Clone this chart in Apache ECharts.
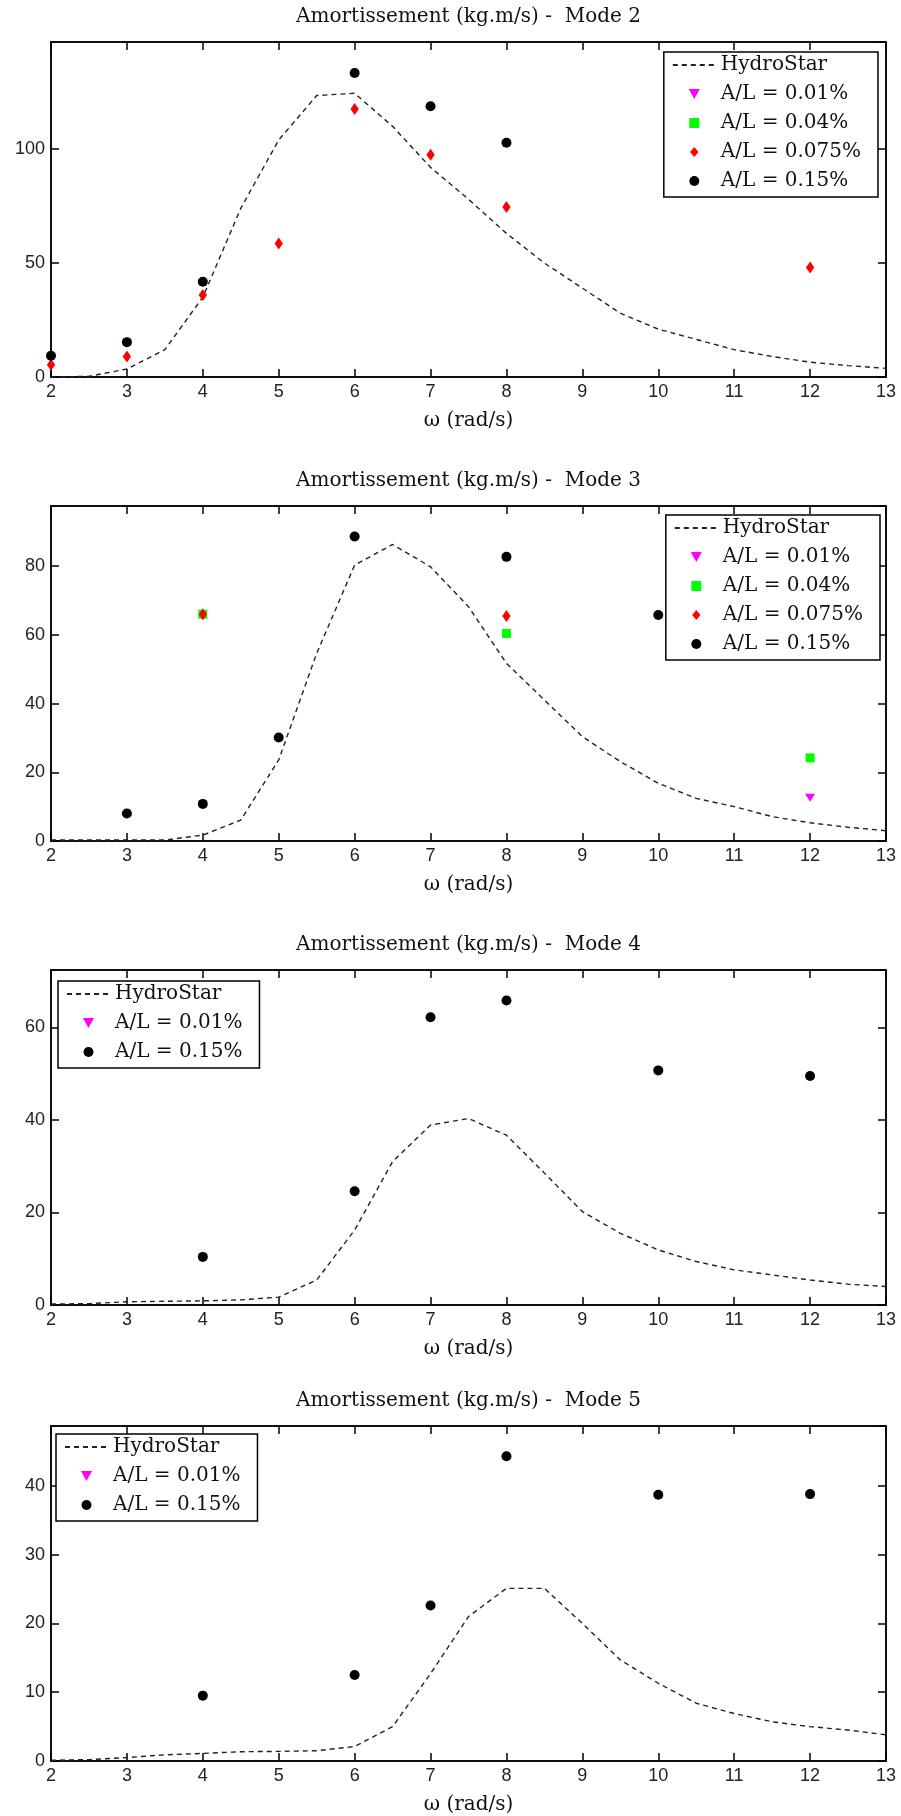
<!DOCTYPE html>
<html>
<head>
<meta charset="utf-8">
<script src="https://cdn.jsdelivr.net/npm/echarts@6/dist/echarts.min.js"></script>
<style>
html,body{margin:0;padding:0;background:#fff;}
#c{width:901px;height:1816px;}
</style>
</head>
<body>
<div id="c"></div>
<script>
// ---- Data ----
const titles = [
  'Amortissement (kg.m/s) -  Mode 2',
  'Amortissement (kg.m/s) -  Mode 3',
  'Amortissement (kg.m/s) -  Mode 4',
  'Amortissement (kg.m/s) -  Mode 5'
];
const xLabel = 'ω (rad/s)';
const seriesNames = ['HydroStar', 'A/L = 0.01%', 'A/L = 0.04%', 'A/L = 0.075%', 'A/L = 0.15%'];
const omega = [2, 2.5, 3, 3.5, 4, 4.5, 5, 5.5, 6, 6.5, 7, 7.5, 8, 8.5, 9, 9.5, 10, 10.5, 11, 11.5, 12, 12.5, 13];

const hydroMode2 = [0, 0.3, 3.5, 12, 35, 74, 104, 123.5, 124.5, 110, 92, 78, 63, 50, 39, 28, 21, 16.5, 12, 9, 6.5, 5, 3.8];
const hydroMode3 = [0.3, 0.3, 0.3, 0.3, 1.7, 6.1, 23.6, 54.6, 80.3, 86.3, 79.8, 68.2, 51.7, 41.0, 30.4, 23.1, 16.8, 12.4, 10.0, 7.1, 5.3, 4.0, 3.0];
const hydroMode4 = [0.2, 0.3, 0.7, 0.8, 0.9, 1.1, 1.7, 5.4, 16.2, 31, 38.9, 40.3, 36.7, 28.5, 20.2, 15.5, 11.9, 9.4, 7.6, 6.5, 5.4, 4.5, 4.0];
const hydroMode5 = [0.1, 0.2, 0.5, 0.9, 1.1, 1.35, 1.4, 1.5, 2.1, 5.0, 12.7, 21.0, 25.1, 25.1, 20.0, 14.7, 11.3, 8.4, 6.9, 5.7, 5.0, 4.5, 3.8];

// measured points: [omega, value]
const m2_001 = [];
const m2_004 = [];
const m2_0075 = [[2, 5.4], [3, 9.0], [4, 36], [5, 58.6], [6, 117.6], [7, 97.5], [8, 74.6], [12, 48]];
const m2_015 = [[2, 9.3], [3, 15.3], [4, 41.8], [6, 133.4], [7, 118.8], [8, 102.8]];

const m3_001 = [[12, 12.6]];
const m3_004 = [[4, 66], [8, 60.4], [12, 24.2]];
const m3_0075 = [[4, 66], [8, 65.5]];
const m3_015 = [[3, 8.0], [4, 10.8], [5, 30.1], [6, 88.6], [8, 82.7], [10, 65.8]];

const m4_001 = [];
const m4_015 = [[4, 10.4], [6, 24.6], [7, 62.2], [8, 65.8], [10, 50.7], [12, 49.5]];

const m5_001 = [];
const m5_015 = [[4, 9.5], [6, 12.5], [7, 22.6], [8, 44.3], [10, 38.7], [12, 38.8]];

const yMax = [147, 97.5, 72.4, 48.7];
const yInterval = [50, 20, 20, 10];
const xMin = 2, xMax = 13, xInterval = 1;

// ---- Build ----
const panels = [
  {hydro: hydroMode2, pts: [m2_001, m2_004, m2_0075, m2_015], legendNames: seriesNames},
  {hydro: hydroMode3, pts: [m3_001, m3_004, m3_0075, m3_015], legendNames: seriesNames},
  {hydro: hydroMode4, pts: [m4_001, null, null, m4_015], legendNames: [seriesNames[0], seriesNames[1], seriesNames[4]]},
  {hydro: hydroMode5, pts: [m5_001, null, null, m5_015], legendNames: [seriesNames[0], seriesNames[1], seriesNames[4]]}
];

const gridLeft = 51, gridWidth = 835, gridHeight = 335;
const gridTops = [42, 506, 970, 1426];
const legendPos = [
  {right: 23, top: 52},
  {right: 21, top: 515},
  {left: 58, top: 981},
  {left: 56, top: 1434}
];

const serif = 'DejaVu Serif';
const sans = 'Liberation Sans';

const markerStyles = [
  {symbol: 'path://M0,0 L10,0 L5,9 Z', symbolSize: [10, 9], color: '#ff00ff'},
  {symbol: 'path://M0,0 L10,0 L10,10 L0,10 Z', symbolSize: [9, 9], color: '#00ff00'},
  {symbol: 'path://M5,0 L10,6 L5,12 L0,6 Z', symbolSize: [10, 12], color: '#ff0000'},
  {symbol: 'circle', symbolSize: 10, color: '#000000'}
];

const option = {
  animation: false,
  backgroundColor: '#ffffff',
  title: [], grid: [], xAxis: [], yAxis: [], legend: [], series: []
};

panels.forEach((p, i) => {
  const top = gridTops[i];
  option.title.push({
    text: titles[i], left: gridLeft + gridWidth / 2, top: top - 35, textAlign: 'center', padding: 0,
    textStyle: {fontFamily: serif, fontSize: 20, fontWeight: 'normal', color: '#111'}
  });
  option.grid.push({
    left: gridLeft, top: top, width: gridWidth, height: gridHeight, containLabel: false,
    show: true, borderColor: '#000', borderWidth: 1.5, backgroundColor: 'rgba(0,0,0,0)'
  });
  const axisLine = {show: true, onZero: false, lineStyle: {color: '#000', width: 1.5}};
  const tick = {show: true, inside: true, length: 8, lineStyle: {color: '#000', width: 1.5}};
  // bottom x
  option.xAxis.push({
    type: 'value', gridIndex: i, position: 'bottom', min: xMin, max: xMax, interval: xInterval,
    axisLine: axisLine, axisTick: tick, splitLine: {show: false},
    axisLabel: {fontFamily: sans, fontSize: 18, color: '#222', margin: 6},
    name: xLabel, nameLocation: 'middle', nameGap: 34,
    nameTextStyle: {fontFamily: serif, fontSize: 20, color: '#111'}
  });
  // top mirror x (same scale)
  option.xAxis.push({
    type: 'value', gridIndex: i, position: 'top', min: xMin, max: xMax, interval: xInterval, show: true,
    axisLine: axisLine, axisTick: tick, splitLine: {show: false}, axisLabel: {show: false}
  });
  // left y
  option.yAxis.push({
    type: 'value', gridIndex: i, position: 'left', min: 0, max: yMax[i], interval: yInterval[i],
    axisLine: axisLine, axisTick: tick, splitLine: {show: false},
    axisLabel: {fontFamily: sans, fontSize: 18, color: '#222', margin: 6, showMaxLabel: false}
  });
  // right mirror y (same scale)
  option.yAxis.push({
    type: 'value', gridIndex: i, position: 'right', min: 0, max: yMax[i], interval: yInterval[i], show: true,
    axisLine: axisLine, axisTick: tick, splitLine: {show: false}, axisLabel: {show: false}
  });

  // HydroStar curve drawn on the mirror axes (identical scales) so that they are laid out too
  option.series.push({
    name: seriesNames[0], type: 'line', xAxisIndex: 2 * i + 1, yAxisIndex: 2 * i + 1,
    data: omega.map((w, k) => [w, p.hydro[k]]),
    symbol: 'none', showSymbol: false, z: 2,
    lineStyle: {color: '#222', width: 1.4, type: [5, 4]},
    itemStyle: {color: '#222'}
  });
  p.pts.forEach((d, j) => {
    if (d === null) return;
    const ms = markerStyles[j];
    option.series.push({
      name: seriesNames[j + 1], type: 'scatter', xAxisIndex: 2 * i, yAxisIndex: 2 * i,
      data: d, symbol: ms.symbol, symbolSize: ms.symbolSize, symbolKeepAspect: true,
      itemStyle: {color: ms.color, opacity: 1}, z: 3 + j
    });
  });

  option.legend.push(Object.assign({
    orient: 'vertical',
    data: p.legendNames.map(n => n === seriesNames[0]
      ? {name: n, itemStyle: {opacity: 0, color: 'rgba(0,0,0,0)'}}
      : {name: n}),
    backgroundColor: '#fff', borderColor: '#000', borderWidth: 1.5, borderRadius: 0,
    padding: [3, 17, 6, 8], itemGap: 9, itemWidth: 43, itemHeight: 10,
    symbolKeepAspect: true,
    textStyle: {fontFamily: serif, fontSize: 20, color: '#111'},
    selectedMode: false
  }, legendPos[i]));
});

const chart = echarts.init(document.getElementById('c'), null, {renderer: 'canvas', width: 901, height: 1816});
chart.setOption(option);
</script>
</body>
</html>
